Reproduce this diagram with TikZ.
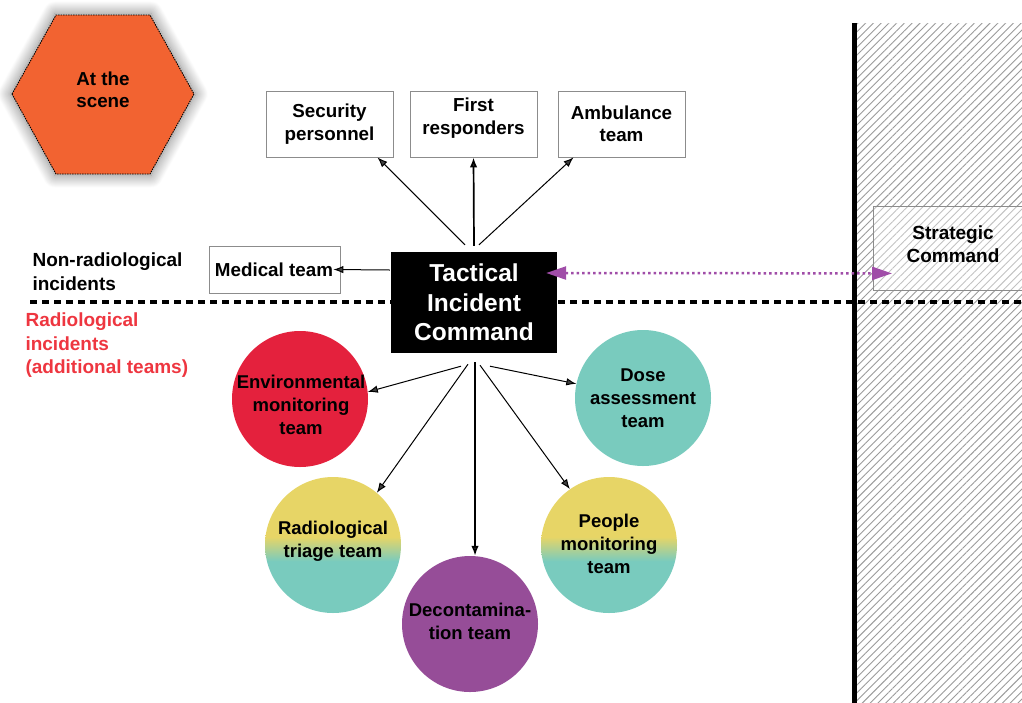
\documentclass[tikz,border=0pt]{standalone}
\usepackage{fontspec}
\setmainfont{Liberation Sans}
\usetikzlibrary{arrows.meta,shadows.blur,patterns.meta}

\definecolor{hexorange}{HTML}{F26331}
\definecolor{envred}{HTML}{E4213D}
\definecolor{circteal}{HTML}{79CBBE}
\definecolor{circyellow}{HTML}{E7D566}
\definecolor{deconpurple}{HTML}{964D98}
\definecolor{linkpurple}{HTML}{A04DA8}
\definecolor{boxgray}{HTML}{8C8C8C}
\definecolor{hatchgray}{HTML}{9A9A9A}
\definecolor{radred}{HTML}{EE3640}

% yellow upper half fading into teal lower half
\pgfdeclareverticalshading{yellowteal}{100bp}{color(0bp)=(circteal); color(44bp)=(circteal); color(53bp)=(circyellow); color(100bp)=(circyellow)}

\begin{document}
\begin{tikzpicture}[x=1pt,y=-1pt,
  teambox/.style={draw=boxgray, line width=0.8pt, fill=white, minimum width=127pt,
    minimum height=66pt, inner sep=0pt},
  lbl/.style={align=center, font=\fontsize{18.8}{22.5}\selectfont\bfseries},
  sidelbl/.style={align=left, anchor=west, font=\fontsize{19}{23.5}\selectfont\bfseries},
  team/.style={circle, minimum size=136pt, inner sep=0pt},
  teamlbl/.style={align=center, inner sep=0pt, font=\fontsize{18.5}{23}\selectfont\bfseries},
  link/.style={-{Latex[length=10pt,width=7.5pt]}, line width=1pt},
  biglink/.style={-{Latex[length=10pt,width=7.5pt]}, line width=1.7pt},
]
\useasboundingbox (0,0) rectangle (1022,702);
\clip (0,0) rectangle (1022,702);

% hatched strategic level and its boundary
\fill[pattern={Lines[angle=45,distance=5.5pt,line width=0.9pt]}, pattern color=hatchgray]
  (856,23) rectangle (1030,710);
\draw[line width=5pt] (854,23) -- (854,710);

% level separator
\draw[line width=3.5pt, dash pattern=on 7pt off 5pt] (30,302) -- (1030,302);

% scene marker
\path[fill=hexorange, draw=black, dash pattern=on 1.5pt off 1pt, line width=0.9pt,
  blur shadow={shadow xshift=0pt, shadow yshift=0pt, shadow blur radius=12pt,
    shadow blur steps=25, shadow scale=1.02, shadow opacity=50}]
  (12,94) -- (56,15) -- (150,15) -- (194,94) -- (150,174) -- (56,174) -- cycle;
\node[lbl] (scene) at (103,90) {At the\\scene};

% level labels
\node[sidelbl] (nonrad) at (29,271.5) {Non-radiological\\incidents};
\node[sidelbl, text=radred] (rad) at (22,345.5) {Radiological\\incidents\\(additional teams)};

% strategic command
\node[draw=boxgray, line width=0.8pt, fill=white, fill opacity=0.4, text opacity=1,
  minimum width=170pt, minimum height=84pt, anchor=north west, inner sep=0pt] (strat) at (873,206) {};
\node[lbl, font=\fontsize{19}{22.5}\selectfont\bfseries] (strattxt) at (953,244) {Strategic\\Command};

% tactical command
\node[fill=black, text=white, minimum width=166pt, minimum height=101pt, inner sep=0pt,
  align=center, font=\fontsize{24.5}{29.5}\selectfont\bfseries] (tic) at (474,302.5)
  {Tactical\\Incident\\Command};

% non-radiological teams
\node[teambox] (sec) at (329.5,124) {};
\node[lbl] (sectxt) at (329.5,124) {Security\\personnel};
\node[teambox] (first) at (473.5,124) {};
\node[lbl] (firsttxt) at (473.5,118) {First\\responders};
\node[teambox] (amb) at (621.5,124) {};
\node[lbl] (ambtxt) at (621.5,124) {Ambulance\\team};
\node[teambox, minimum width=131pt, minimum height=47pt] (med) at (274.5,269.5) {};
\node[lbl] (medtxt) at (274,269.5) {Medical team};

% radiological teams
\node[team, fill=envred] (env) at (300,399) {};
\node[teamlbl] (envtxt) at (301,405) {Environmental\\monitoring\\team};
\node[team, fill=circteal] (dose) at (643,398) {};
\node[teamlbl] (dosetxt) at (643,398) {Dose\\assessment\\team};
\node[team, shading=yellowteal] (tri) at (333,545) {};
\node[teamlbl] (tritxt) at (333,541) {Radiological\\triage team};
\node[team, shading=yellowteal] (peo) at (609,545) {};
\node[teamlbl] (peotxt) at (609,544) {People\\monitoring\\team};
\node[team, fill=deconpurple] (dec) at (470,624) {};
\node[teamlbl] (dectxt) at (470,621) {Decontamina-\\tion team};

% command links
\draw[link] ([xshift=-9pt,yshift=7pt]tic.north) -- ([xshift=48pt]sec.south);
\draw[biglink] ([yshift=6pt]tic.north) -- (first.south);
\draw[link] ([xshift=5pt,yshift=7pt]tic.north) -- ([xshift=-48pt]amb.south);
\draw[link] ([xshift=-1pt,yshift=32.5pt]tic.west) -- ([xshift=-7pt]med.east);
\draw[link] ([xshift=-13pt,yshift=-13pt]tic.south) -- (env.6);
\draw[link] ([xshift=-6pt,yshift=-11pt]tic.south) -- (tri.50);
\draw[biglink] ([xshift=1pt,yshift=-9pt]tic.south) -- ([xshift=5pt]dec.north);
\draw[link] ([xshift=6pt,yshift=-12pt]tic.south) -- (peo.125);
\draw[link] ([xshift=16pt,yshift=-13pt]tic.south) -- (dose.168);

% link to strategic level
\draw[linkpurple, line width=2.5pt, dash pattern=on 2.5pt off 3pt,
  {Triangle[length=20pt,width=13pt]}-{Triangle[length=20pt,width=13pt]}]
  ([xshift=-11pt,yshift=29.5pt]tic.east) -- ([xshift=19pt,yshift=-25pt]strat.west);
\end{tikzpicture}
\end{document}
